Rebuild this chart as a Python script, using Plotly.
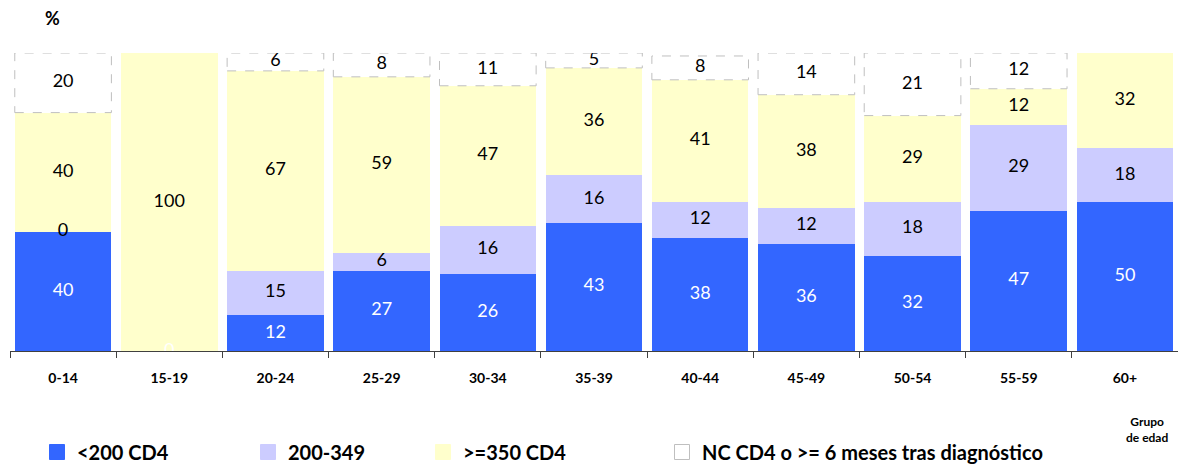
import plotly.graph_objects as go

categories = ["0-14", "15-19", "20-24", "25-29", "30-34", "35-39", "40-44", "45-49", "50-54", "55-59", "60+"]
lt200 = [40, 0, 12, 27, 26, 43, 38, 36, 32, 47, 50]
r200_349 = [0, 0, 15, 6, 16, 16, 12, 12, 18, 29, 18]
ge350 = [40, 100, 67, 59, 47, 36, 41, 38, 29, 12, 32]
nc = [20, 0, 6, 8, 11, 5, 8, 14, 21, 12, 0]
series_names = ["<200 CD4", "200-349", ">=350 CD4", "NC CD4 o >= 6 meses tras diagnóstico"]
# zero values that still carry a visible label in the reference
zero_labels = {("<200 CD4", "15-19"), ("200-349", "0-14")}

BLUE = "#3366FF"
LAV = "#CCCCFF"
YEL = "#FFFFCC"
FONT = "Lato"

series = [lt200, r200_349, ge350, nc]
colors = [BLUE, LAV, YEL, "rgba(255,255,255,0)"]
legend_fill = [BLUE, LAV, YEL, "white"]
legend_line = [BLUE, LAV, YEL, "#BFBFBF"]
text_colors = ["white", "black", "black", "black"]
legend_ids = ["legend", "legend2", "legend3", "legend4"]

fig = go.Figure()
BW = 0.91
for k, (name, vals) in enumerate(zip(series_names, series)):
    fig.add_trace(go.Bar(
        x=categories, y=vals, name=name, marker=dict(color=colors[k], line=dict(width=0)),
        width=BW, showlegend=False, hoverinfo="skip",
    ))
    # legend entry with a larger square swatch
    fig.add_trace(go.Scatter(
        x=[categories[0]], y=[None], name=name, mode="markers",
        marker=dict(symbol="square", size=15, color=legend_fill[k],
                    line=dict(color=legend_line[k], width=1)),
        showlegend=True, legend=legend_ids[k], hoverinfo="skip",
    ))

# labels at segment midpoints
base = [0] * len(categories)
for k, (name, vals) in enumerate(zip(series_names, series)):
    xs, ys, ts = [], [], []
    for i, c in enumerate(categories):
        v = vals[i]
        if v > 0 or (name, c) in zero_labels:
            xs.append(c)
            ys.append(base[i] + v / 2)
            ts.append(str(v))
    fig.add_trace(go.Scatter(
        x=xs, y=ys, text=ts, mode="text", showlegend=False, hoverinfo="skip",
        textfont=dict(family=FONT, size=18, color=text_colors[k]),
    ))
    # dashed outlines for the NC segments
    if k == 3:
        for i, c in enumerate(categories):
            if vals[i] > 0:
                fig.add_shape(type="rect", xref="x", yref="y",
                              x0=i - BW / 2, x1=i + BW / 2, y0=base[i], y1=base[i] + vals[i],
                              line=dict(color="#BFBFBF", width=1, dash="dash"), fillcolor="rgba(0,0,0,0)",
                              layer="above")
    base = [b + v for b, v in zip(base, vals)]

PL, PR, PT, PB = 10, 0, 53, 115
W, H = 1178, 466
pw = W - PL - PR
ph = H - PT - PB

def px_x(px):
    return (px - PL) / pw

def px_y(py):
    return (H - PB - py) / ph

leg_common = dict(orientation="h", yanchor="middle", xanchor="left",
                  font=dict(family=FONT, size=20, color="black", weight="bold"),
                  bgcolor="rgba(0,0,0,0)", itemwidth=30, tracegroupgap=0)
fig.update_layout(
    legend=dict(x=px_x(37), y=px_y(452), **leg_common),
    legend2=dict(x=px_x(248), y=px_y(452), **leg_common),
    legend3=dict(x=px_x(423), y=px_y(452), **leg_common),
    legend4=dict(x=px_x(662), y=px_y(452), **leg_common),
)

fig.update_layout(
    width=W, height=H, barmode="stack", bargap=0.09,
    margin=dict(l=PL, r=PR, t=PT, b=PB, autoexpand=False),
    plot_bgcolor="white", paper_bgcolor="white",
    font=dict(family=FONT, color="black"),
    xaxis=dict(range=[-0.5, len(categories) - 0.5], showline=True, linecolor="#404040", linewidth=1,
               ticks="outside", tickson="boundaries",
               ticklen=6, tickcolor="#404040", tickfont=dict(family=FONT, size=14, color="black", weight="bold"),
               ticklabelstandoff=14, fixedrange=True),
    yaxis=dict(range=[0, 100], visible=False, showgrid=False, fixedrange=True),
    annotations=[
        dict(text="<b>%</b>", x=px_x(52), y=px_y(18), xref="paper", yref="paper", showarrow=False,
             xanchor="center", yanchor="middle", font=dict(family=FONT, size=18, color="black")),
        dict(text="<b>Grupo<br>de edad</b>", x=px_x(1147), y=px_y(429), xref="paper", yref="paper",
             showarrow=False, align="center", xanchor="center", yanchor="middle",
             font=dict(family=FONT, size=12, color="black")),
    ],
)

fig.write_html(
    "out.html",
    config={"displayModeBar": False},
    post_script="document.body.style.margin='0';document.body.style.padding='0';document.body.style.overflow='hidden';",
)
